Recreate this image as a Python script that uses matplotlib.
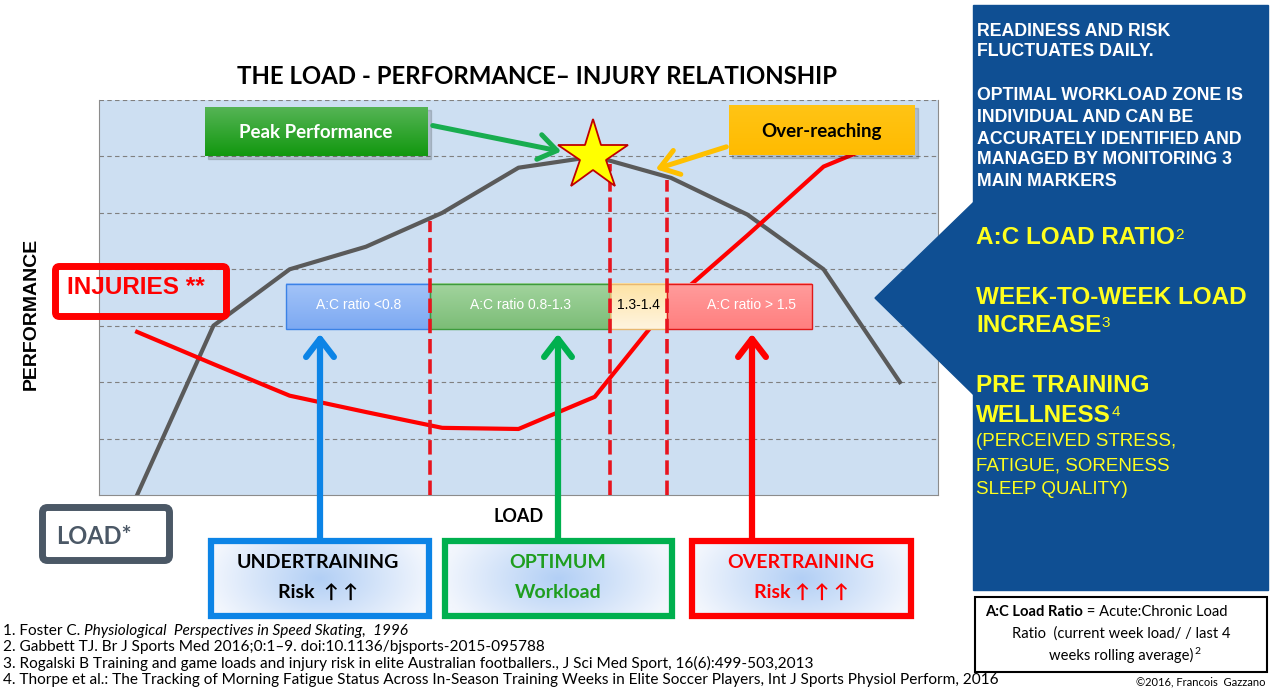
import numpy as np
import matplotlib.pyplot as plt
import matplotlib.colors as mcolors
from matplotlib.patches import Rectangle, FancyBboxPatch, Polygon, FancyArrowPatch

# ---------------- data ----------------
load_idx = list(range(11))
performance = [0.0, 3.0, 4.0, 4.4, 5.0, 5.8, 6.0, 5.62, 4.97, 4.0, 2.0]
injuries = [2.89, 2.32, 1.76, 1.47, 1.19, 1.17, 1.74, 3.42, 4.6, 5.82, 6.38]
peak_x, peak_y = 5.98, 6.0

zone_edges = [1.95, 3.84, 6.2, 6.95, 8.85]
zone_labels = ["A:C ratio <0.8", "A:C ratio 0.8-1.3", "1.3-1.4", "A:C ratio > 1.5"]
zone_label_x = [2.9, 5.02, 6.57, 8.06]
zone_bottom, zone_top = 2.94, 3.74
zone_top_col = ['#a3c4f8', '#a2d49e', '#fde3a4', '#ff9c9c']
zone_bot_col = ['#7da9f2', '#7cbd77', '#fff4df', '#ff7f7f']
zone_edge_col = ['#3b82e6', '#3d9b3d', '#e8b870', '#e01818']
zone_txt_col = ['white', 'white', 'black', 'white']

references = [
    ("1. Foster C. ", "Physiological  Perspectives in Speed Skating,  1996"),
    ("2. Gabbett TJ. Br J Sports Med 2016;0:1\u20139. doi:10.1136/bjsports-2015-095788", ""),
    ("3. Rogalski B Training and game loads and injury risk in elite Australian footballers., "
     "J Sci Med Sport, 16(6):499-503,2013", ""),
    ("4. Thorpe et al.: The Tracking of Morning Fatigue Status Across In-Season Training Weeks "
     "in Elite Soccer Players, Int J Sports Physiol Perform, 2016", ""),
]

ARIAL = ['Liberation Sans', 'DejaVu Sans']
CALI = ['Lato', 'DejaVu Sans']


def grad(ax, x0, x1, yb, yt, c_top, c_bot, z):
    t = np.linspace(0, 1, 64)[:, None, None]
    arr = (1 - t) * np.array(mcolors.to_rgb(c_top)) + t * np.array(mcolors.to_rgb(c_bot))
    ax.imshow(arr, extent=(x0, x1, yb, yt), aspect='auto', zorder=z,
              interpolation='bilinear')


def radial(ax, x0, x1, yb, yt, c_mid, c_out, z):
    gx, gy = np.meshgrid(np.linspace(-1, 1, 80), np.linspace(-1, 1, 40))
    d = np.clip(np.sqrt(gx ** 2 + (gy * 0.6) ** 2), 0, 1)[:, :, None]
    arr = (1 - d) * np.array(mcolors.to_rgb(c_mid)) + d * np.array(mcolors.to_rgb(c_out))
    ax.imshow(arr, extent=(x0, x1, yb, yt), aspect='auto', zorder=z,
              interpolation='bilinear')


fig = plt.figure(figsize=(12.7, 6.93), dpi=100)

# ---------------- main chart ----------------
ax = fig.add_axes([99 / 1270, 198 / 693, 839 / 1270, 395 / 693])
ax.set_facecolor('#cddff2')
ax.plot(load_idx, performance, color='#5a5a5a', lw=3, zorder=2)
ax.plot(load_idx, injuries, color='#ff0000', lw=3, zorder=2)

for i in range(4):
    grad(ax, zone_edges[i], zone_edges[i + 1], zone_bottom, zone_top,
         zone_top_col[i], zone_bot_col[i], 3)
ax.barh((zone_bottom + zone_top) / 2, np.diff(zone_edges), left=zone_edges[:-1],
        height=zone_top - zone_bottom, facecolor='none', edgecolor=zone_edge_col,
        lw=1, zorder=3.2)
for i in range(4):
    ax.text(zone_label_x[i], (zone_bottom + zone_top) / 2 + 0.02, zone_labels[i],
            ha='center', va='center', fontsize=10, color=zone_txt_col[i],
            family=ARIAL, zorder=3.5)

for xv in zone_edges[1:4]:
    top = np.interp(xv, load_idx, performance) - 0.05
    ax.plot([xv, xv], [0, top], color='#e8141e', lw=2.6, ls=(0, (4, 1.6)), zorder=4)

ax.plot(peak_x, peak_y, marker='*', ms=53, mfc='#ffff00', mec='#c00000', mew=1.3,
        zorder=5, clip_on=False)

ax.set_xlim(-0.5, 10.5)
ax.set_ylim(0, 7)
ax.set_yticks(range(1, 8))
ax.set_xticks([])
ax.tick_params(length=0, labelleft=False)
ax.yaxis.grid(True, ls=(0, (4, 3)), color='#808080', lw=0.8)
ax.set_axisbelow(True)
for s in ['left', 'right', 'bottom']:
    ax.spines[s].set_color('#8c8c8c')
ax.spines['top'].set_visible(False)

# ---------------- overlay (pixel coords) ----------------
ov = fig.add_axes([0, 0, 1, 1], zorder=5)
ov.patch.set_alpha(0)
ov.axis('off')

ov.text(537, 77, "THE LOAD - PERFORMANCE\u2013 INJURY RELATIONSHIP", ha='center', va='center',
        fontsize=17.3, weight='bold', family=CALI)
ov.text(31, 314, "PERFORMANCE", rotation=90, ha='center', va='center', fontsize=14,
        weight='bold', family=ARIAL)
ov.text(519, 516, "LOAD", ha='center', va='center', fontsize=13, weight='bold', family=CALI)

# peak performance / over-reaching boxes
ov.add_patch(Rectangle((208, 110), 223, 49, color='#000000', alpha=0.15, zorder=1))
grad(ov, 205, 428, 156, 107, '#55b455', '#12980f', 2)
ov.text(316, 132, "Peak Performance", ha='center', va='center', color='white',
        fontsize=13.5, weight='bold', family=CALI, zorder=3)
ov.add_patch(Rectangle((732, 108), 186, 50, color='#000000', alpha=0.15, zorder=1))
grad(ov, 729, 915, 155, 105, '#ffc415', '#ffbb00', 2)
ov.text(822, 131, "Over-reaching", ha='center', va='center', color='black',
        fontsize=13.5, weight='bold', family=CALI, zorder=3)

arr_kw = dict(arrowstyle='->,head_length=13,head_width=9', mutation_scale=1,
              capstyle='round', joinstyle='round', zorder=4)
ov.add_patch(FancyArrowPatch((430, 125), (564, 152), color='#18ad4f', lw=3.6, **arr_kw))
ov.add_patch(FancyArrowPatch((729, 146), (653, 170), color='#ffc000', lw=3.6, **arr_kw))

# INJURIES / LOAD* labels
ov.add_patch(FancyBboxPatch((55.5, 266.5), 171, 50, boxstyle='round,pad=0,rounding_size=4',
                            fill=False, ec='#ff0000', lw=5, zorder=3))
ov.text(67, 288, "INJURIES **", ha='left', va='center', color='#ff0000', fontsize=17.5,
        weight='bold', family=ARIAL, zorder=3)
ov.add_patch(FancyBboxPatch((42.5, 507.5), 127, 53, boxstyle='round,pad=0,rounding_size=5',
                            facecolor='white', ec='#4b5866', lw=5, zorder=3))
ov.text(56, 537, "LOAD*", ha='left', va='center', color='#4b5866', fontsize=17,
        weight='bold', family=CALI, zorder=4)

# up arrows
up_kw = dict(arrowstyle='->,head_length=13,head_width=10', mutation_scale=1,
             capstyle='round', joinstyle='round', zorder=2)
ov.add_patch(FancyArrowPatch((320, 541), (320, 331), color='#0c84e6', lw=4.5, **up_kw))
ov.add_patch(FancyArrowPatch((558, 541), (558, 331), color='#00b04e', lw=4.5, **up_kw))
ov.add_patch(FancyArrowPatch((752, 541), (752, 331), color='#ff0000', lw=4.5, **up_kw))

# bottom boxes
boxes = [
    (208, 432, '#0c84e6', "UNDERTRAINING", "Risk  \u2191 \u2191", 'black', 318),
    (442, 675, '#00b04e', "OPTIMUM", "Workload", '#1f9e1f', 558),
    (689, 914, '#ff0000', "OVERTRAINING", "Risk \u2191 \u2191 \u2191", '#ff0000', 801),
]
for x0, x1, ec, t1, t2, tc, xc in boxes:
    radial(ov, x0, x1, 619, 538, '#b2cff5', '#f2f6fd', 3)
    ov.add_patch(Rectangle((x0 + 3, 541), x1 - x0 - 6, 75, fill=False, ec=ec, lw=4.5, zorder=4))
    ov.text(xc, 563, t1, ha='center', va='center', color=tc, fontsize=14,
            weight='bold', family=CALI, zorder=5)
    ov.text(xc, 593, t2, ha='center', va='center', color=tc, fontsize=14,
            weight='bold', family=CALI, zorder=5)

# right panel
PANEL = '#0f4f93'
ov.add_patch(Rectangle((973, 5), 295, 585, color=PANEL, zorder=2))
ov.add_patch(Polygon([(875, 298), (974, 202), (974, 395)], closed=True, color=PANEL, zorder=2))

white_lines = [("READINESS AND RISK", 31), ("FLUCTUATES DAILY.", 52),
               ("OPTIMAL WORKLOAD ZONE IS", 96), ("INDIVIDUAL AND CAN BE", 117),
               ("ACCURATELY IDENTIFIED AND", 139), ("MANAGED BY MONITORING 3", 160),
               ("MAIN MARKERS", 182)]
for s, y in white_lines:
    ov.text(977, y, s, ha='left', va='center', color='white', fontsize=12.8,
            weight='bold', family=ARIAL, zorder=3)

YEL = '#ffff1e'
big_lines = [("A:C LOAD RATIO", 238, "2"), ("WEEK-TO-WEEK LOAD", 297, None),
             ("INCREASE", 326, "3"), ("PRE TRAINING", 386, None), ("WELLNESS", 415, "4")]
for s, y, sup in big_lines:
    t = ov.text(976, y, s, ha='left', va='center', color=YEL, fontsize=17.5,
                weight='bold', family=ARIAL, zorder=3)
    if sup:
        ov.annotate(sup, xy=(1, 0.64), xycoords=t, xytext=(0.3, 0), textcoords='offset points',
                    ha='left', va='center', color=YEL, fontsize=11, family=ARIAL, zorder=3)
for s, y in [("(PERCEIVED STRESS,", 442), ("FATIGUE, SORENESS", 466), ("SLEEP QUALITY)", 490)]:
    ov.text(976, y, s, ha='left', va='center', color=YEL, fontsize=13.5, family=ARIAL, zorder=3)

# definition box
ov.add_patch(Rectangle((975, 597), 292, 75, facecolor='white', ec='black', lw=1.5, zorder=2))
tb = ov.text(1083, 612, "A:C Load Ratio", ha='right', va='center', fontsize=10.6, weight='bold',
             family=CALI, zorder=3)
ov.annotate(" = Acute:Chronic Load", xy=(1, 0.5), xycoords=tb, ha='left', va='center',
            fontsize=10.6, family=CALI, zorder=3)
ov.text(1121, 634, "Ratio  (current week load/ / last 4", ha='center', va='center',
        fontsize=10.6, family=CALI, zorder=3)
tw = ov.text(1121, 655, "weeks rolling average)", ha='center', va='center', fontsize=10.6,
             family=CALI, zorder=3)
ov.annotate("2", xy=(1, 0.7), xycoords=tw, xytext=(1, 0), textcoords='offset points',
            ha='left', va='center', fontsize=7.5, family=CALI, zorder=3)
ov.text(1265, 682, "\u00a92016, Francois  Gazzano", ha='right', va='center', fontsize=8,
        family=CALI)

# references
for (a, b), y in zip(references, [631, 647, 663, 680]):
    t = ov.text(3, y, a, ha='left', va='center', fontsize=11.1, family=CALI)
    if b:
        ov.annotate(b, xy=(1, 0.5), xycoords=t, ha='left', va='center', fontsize=11.1,
                    style='italic', family=CALI)

ov.set_xlim(0, 1270)
ov.set_ylim(693, 0)

fig.savefig('out.png', dpi=100)
